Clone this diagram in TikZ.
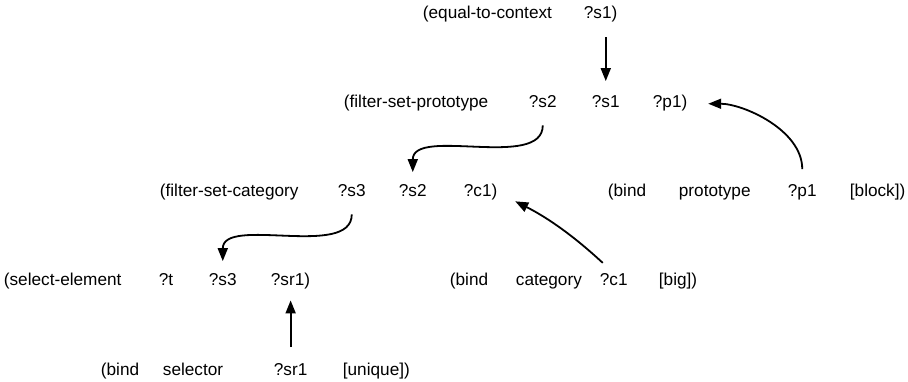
\documentclass[tikz,border=0pt]{standalone}
\usepackage{fontspec}
\setmainfont{Liberation Sans}
\usetikzlibrary{arrows.meta}

\begin{document}
\begin{tikzpicture}[x=1pt, y=-1pt, line width=1.8pt,
    >={Triangle[length=13pt, width=10pt]},
    tok/.style={anchor=base west, inner sep=0pt, text height=12pt, text depth=3.5pt,
      font=\fontsize{17.2}{20}\selectfont}]
  \useasboundingbox (0,0) rectangle (908,382);
  % row 1
  \node[tok] (eq)   at (422,19)  {(equal-to-context};
  \node[tok] (s1a)  at (583,19)  {?s1)};
  % row 2
  \node[tok] (fsp)  at (343,108) {(filter-set-prototype};
  \node[tok] (s2a)  at (528,108) {?s2};
  \node[tok] (s1b)  at (591,108) {?s1};
  \node[tok] (p1a)  at (652,108) {?p1)};
  % row 3
  \node[tok] (fsc)  at (159,197) {(filter-set-category};
  \node[tok] (s3a)  at (337,197) {?s3};
  \node[tok] (s2b)  at (398,197) {?s2};
  \node[tok] (c1a)  at (463,197) {?c1)};
  \node[tok] (bp)   at (607,197) {(bind};
  \node[tok] (prot) at (678,197) {prototype};
  \node[tok] (p1b)  at (787,197) {?p1};
  \node[tok] (blk)  at (849,197) {[block])};
  % row 4
  \node[tok] (sel)  at (3,286)   {(select-element};
  \node[tok] (t)    at (158,286) {?t};
  \node[tok] (s3b)  at (208,286) {?s3};
  \node[tok] (sr1a) at (270,286) {?sr1)};
  \node[tok] (bc)   at (449,286) {(bind};
  \node[tok] (cat)  at (515,286) {category};
  \node[tok] (c1b)  at (599,286) {?c1};
  \node[tok] (big)  at (658,286) {[big])};
  % row 5
  \node[tok] (bs)   at (100,375) {(bind};
  \node[tok] (selr) at (162,375) {selector};
  \node[tok] (sr1b) at (273,375) {?sr1};
  \node[tok] (uniq) at (342,375) {[unique])};

  \path[->]
    (s1a.south -| s1b) edge [shorten <=14pt, shorten >=14pt] (s1b.north)
    (s2a.south) edge [out=-90, in=90, shorten <=13pt, shorten >=12pt] (s2b.north)
    (s3a.south) edge [out=-90, in=90, shorten <=13pt, shorten >=12pt] (s3b.north)
    (sr1b.north) edge [shorten <=15pt, shorten >=10pt] (sr1a.south -| sr1b)
    (c1b.north) edge [bend right=8, shorten <=15pt, shorten >=19pt] (c1a.east)
    (p1b.north) edge [out=90, in=0, shorten <=15pt, shorten >=20pt] (p1a.east);
\end{tikzpicture}
\end{document}
